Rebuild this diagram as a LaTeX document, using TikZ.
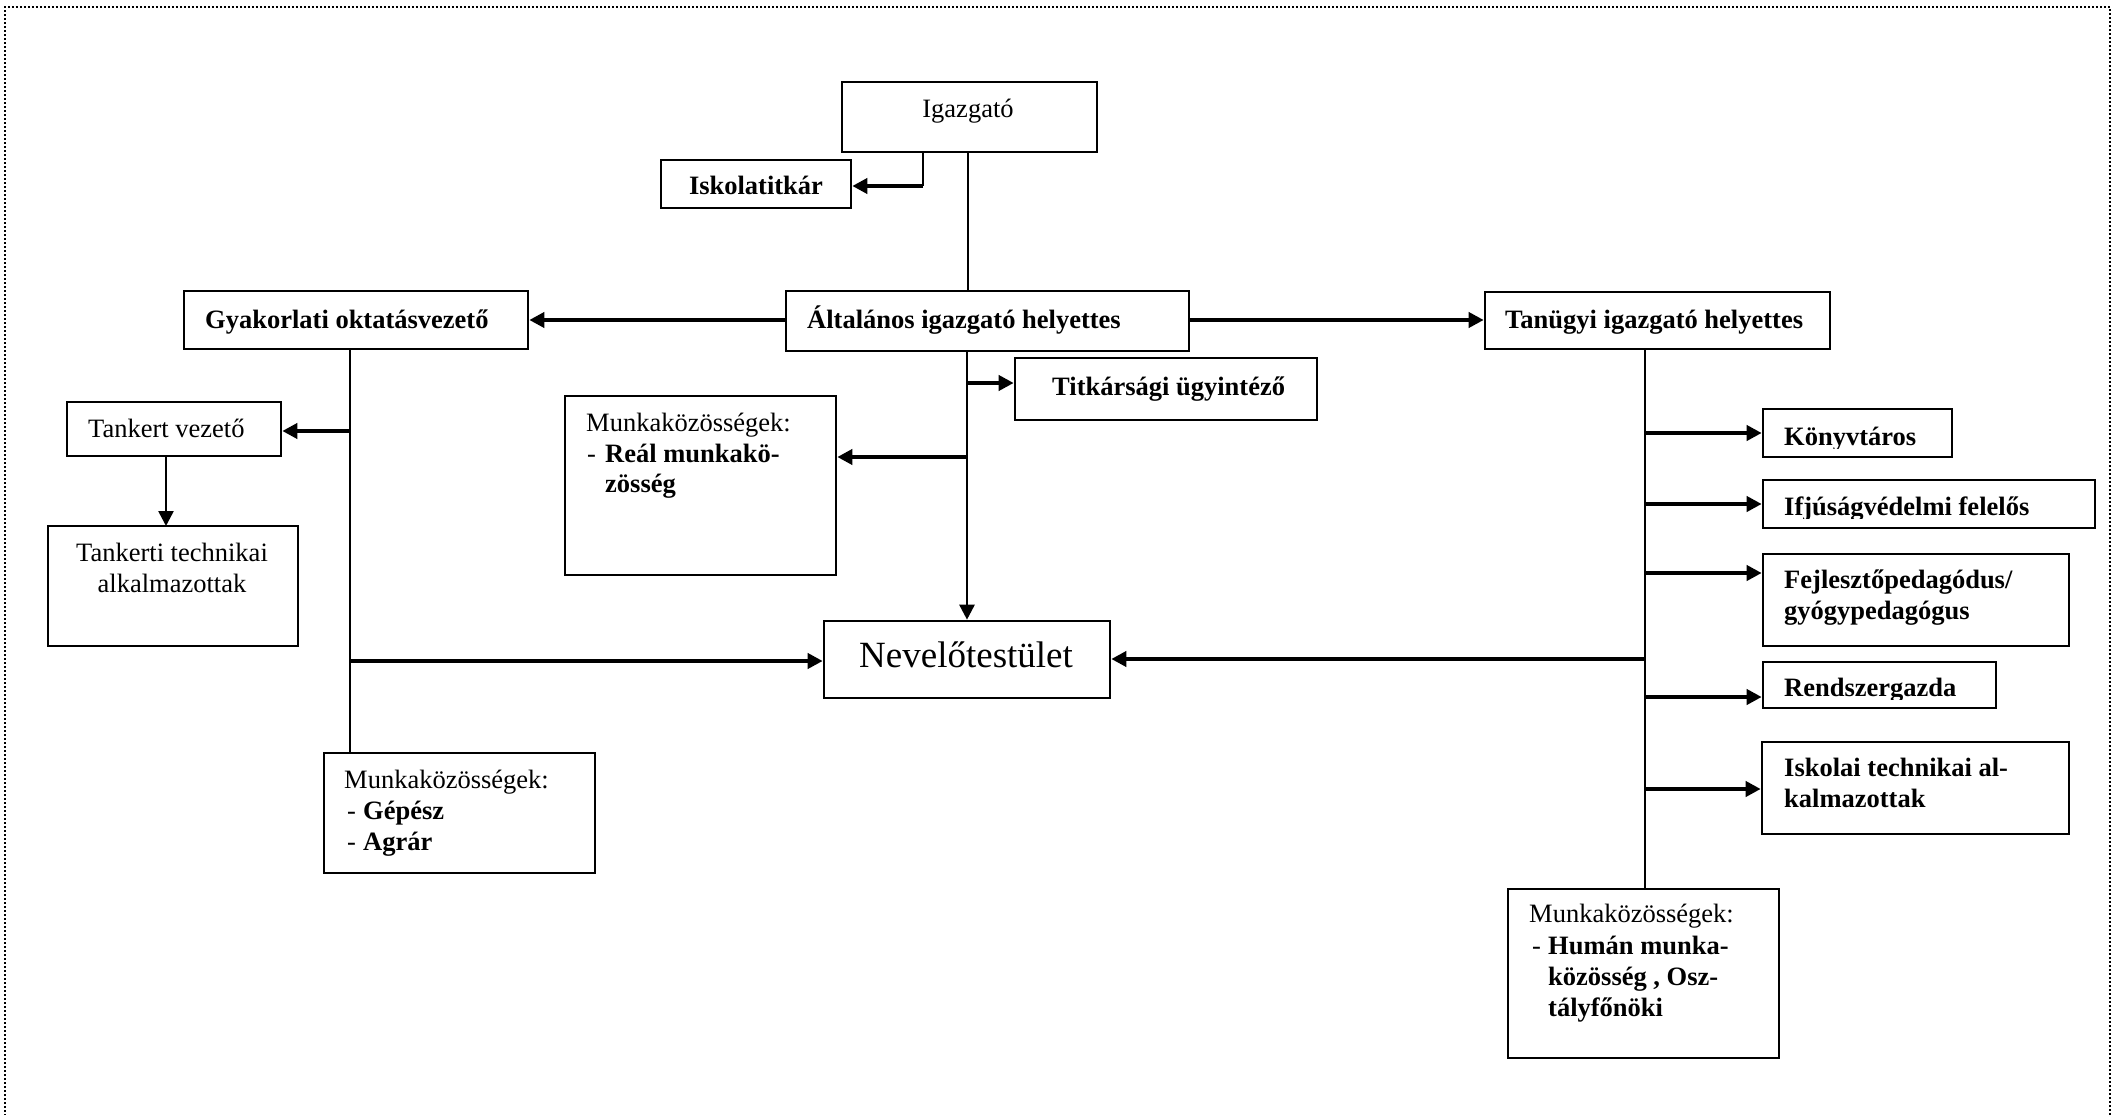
\documentclass[tikz,border=0pt]{standalone}
\usepackage{fontspec}
\setmainfont{Liberation Serif}
\usetikzlibrary{arrows.meta,calc}
\tikzset{
  box/.style={draw, line width=2.6pt, inner sep=0pt},
  arr/.style={line width=4pt, -{Triangle[length=15pt,width=15pt]}},
  varr/.style={line width=2.6pt, -{Triangle[length=15pt,width=15pt]}},
  vline/.style={line width=2.2pt},
  t/.style={inner sep=0pt, anchor=base west, font=\fontsize{26.5}{31}\selectfont},
  tb/.style={inner sep=0pt, anchor=base west, font=\bfseries\fontsize{26.5}{31}\selectfont},
}
\begin{document}
\begin{tikzpicture}[x=1pt,y=-1pt]
\useasboundingbox (0,0) rectangle (2112,1115);
% frame
\draw[line width=1.6pt, dash pattern=on 1.6pt off 2.4pt] (5,1120) -- (5,7) -- (2110,7) -- (2110,1120);

% boxes
\node[box, minimum width=255pt, minimum height=70pt] (igaz) at (969.5,117) {};
\node[box, minimum width=190pt, minimum height=48pt] (isk) at (756,184) {};
\node[box, minimum width=344pt, minimum height=58pt] (gyak) at (356,320) {};
\node[box, minimum width=403pt, minimum height=60pt] (alt) at (987.5,321) {};
\node[box, minimum width=345pt, minimum height=57pt] (tan) at (1657.5,320.5) {};
\node[box, minimum width=302pt, minimum height=62pt] (titk) at (1166,389) {};
\node[box, minimum width=214pt, minimum height=54pt] (tv) at (174,429) {};
\node[box, minimum width=250pt, minimum height=120pt] (tt) at (173,586) {};
\node[box, minimum width=271pt, minimum height=179pt] (real) at (700.5,485.5) {};
\node[box, minimum width=286pt, minimum height=77pt] (nev) at (967,659.5) {};
\node[box, minimum width=271pt, minimum height=120pt] (gep) at (459.5,813) {};
\node[box, minimum width=189pt, minimum height=48pt] (kon) at (1857.5,433) {};
\node[box, minimum width=332pt, minimum height=48pt] (ifj) at (1929,504) {};
\node[box, minimum width=306pt, minimum height=92pt] (fej) at (1916,600) {};
\node[box, minimum width=233pt, minimum height=46pt] (ren) at (1879.5,685) {};
\node[box, minimum width=307pt, minimum height=92pt] (isko) at (1915.5,788) {};
\node[box, minimum width=271pt, minimum height=169pt] (hum) at (1643.5,973.5) {};

% junction coordinates
\coordinate (ja) at (923,152);
\coordinate (jb) at (923,186);
\coordinate (jm) at (968,152);
\coordinate (jn) at (967,351);
\coordinate (jt) at (967,383);
\coordinate (jr) at (967,457);
\coordinate (g0) at (350,349);
\coordinate (g1) at (350,753);
\coordinate (gtv) at (350,431);
\coordinate (gnev) at (350,661);
\coordinate (tv0) at (166,456);
\coordinate (tv1) at (166,526);
\coordinate (r0) at (1645,349);
\coordinate (r1) at (1645,889);
\coordinate (rnev) at (1645,659);
\coordinate (rk) at (1645,433);
\coordinate (ri) at (1645,504);
\coordinate (rf) at (1645,573);
\coordinate (rr) at (1645,697);
\coordinate (ris) at (1645,789);
\coordinate (yh) at (0,320);

% connectors
\draw[line width=2.2pt] (ja) -- (jb);
\draw[arr] (jb) -- (isk.east |- jb);
\draw[vline] (jm) -- (jm |- alt.north);
\draw[arr] (alt.west |- yh) -- (gyak.east |- yh);
\draw[arr] (alt.east |- yh) -- (tan.west |- yh);
\draw[varr] (jn) -- (nev.north);
\draw[arr] (jt) -- (titk.west |- jt);
\draw[arr] (jr) -- (real.east |- jr);
\draw[vline] (g0) -- (g1);
\draw[arr] (gtv) -- (tv.east |- gtv);
\draw[varr] (tv0) -- (tv1);
\draw[arr] (gnev) -- (nev.west |- gnev);
\draw[line width=2.4pt] (r0) -- (r1);
\draw[arr] (rnev) -- (nev.east |- rnev);
\draw[arr] (rk) -- (kon.west |- rk);
\draw[arr] (ri) -- (ifj.west |- ri);
\draw[arr] (rf) -- (fej.west |- rf);
\draw[arr] (rr) -- (ren.west |- rr);
\draw[arr] (ris) -- (isko.west |- ris);

% texts
\node[t, anchor=base] (tigaz) at (968,118) {Igazgató};
\node[tb, anchor=base] (tisk) at (756,195) {Iskolatitkár};
\node[tb] (tgyak) at (205,328) {Gyakorlati oktatásvezető};
\node[tb] (talt) at (807,328) {Általános igazgató helyettes};
\node[tb] (ttan) at (1505,328) {Tanügyi igazgató helyettes};
\node[tb] (ttitk) at (1052,395) {Titkársági ügyintéző};
\node[t] (ttv) at (88,437) {Tankert vezető};
\node[t, anchor=base] (ttt1) at (172,561) {Tankerti technikai};
\node[t, anchor=base] (ttt2) at (172,592) {alkalmazottak};

\node[t] (tr1) at (586,431) {Munkaközösségek:};
\node[t] (tr2a) at (587,462) {-};
\node[tb] (tr2) at (605,462) {Reál munkakö-};
\node[tb] (tr3) at (605,492) {zösség};

\node[inner sep=0pt, anchor=base west, font=\fontsize{37}{44}\selectfont] (tnev) at (859,667) {Nevelőtestület};

\node[t] (tg1) at (344,788) {Munkaközösségek:};
\node[t] (tg2a) at (347,819) {-};
\node[tb] (tg2) at (363,819) {Gépész};
\node[t] (tg3a) at (347,850) {-};
\node[tb] (tg3) at (363,850) {Agrár};

\begin{scope}
\clip (1763,409) rectangle (1952,448);
\node[tb] (tkon) at (1784,445) {Könyvtáros};
\end{scope}
\begin{scope}
\clip (1763,480) rectangle (2095,518);
\node[tb] (tifj) at (1784,515) {Ifjúságvédelmi felelős};
\end{scope}
\node[tb] (tfej1) at (1784,588) {Fejlesztőpedagódus/};
\node[tb] (tfej2) at (1784,619) {gyógypedagógus};
\begin{scope}
\clip (1763,662) rectangle (1996,699);
\node[tb] (tren) at (1784,696) {Rendszergazda};
\end{scope}
\node[tb] (tisko1) at (1784,776) {Iskolai technikai al-};
\node[tb] (tisko2) at (1784,807) {kalmazottak};

\node[t] (th1) at (1529,922) {Munkaközösségek:};
\node[t] (th2a) at (1532,954) {-};
\node[tb] (th2) at (1548,954) {Humán munka-};
\node[tb] (th3) at (1548,985) {közösség , Osz-};
\node[tb] (th4) at (1548,1016) {tályfőnöki};
\end{tikzpicture}
\end{document}
